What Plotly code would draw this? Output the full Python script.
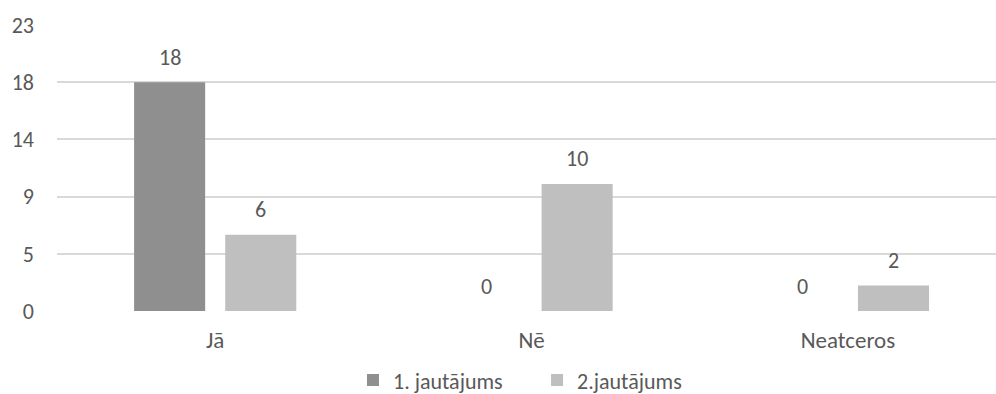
import plotly.graph_objects as go

categories = ["Jā", "Nē", "Neatceros"]
series_names = ["1. jautājums", "2.jautājums"]
q1_values = [18, 0, 0]
q2_values = [6, 10, 2]
tick_values = [0, 4.5, 9, 13.5, 18, 22.5]
tick_labels = ["0", "5", "9", "14", "18", "23"]

colors = ["#8f8f8f", "#bfbfbf"]
legend_ids = ["legend", "legend2"]
font_family = "Calibri, Carlito, Lato, sans-serif"
text_color = "#595959"
fs = 22

fig = go.Figure()
for name, vals, col, lg in zip(series_names, [q1_values, q2_values], colors, legend_ids):
    fig.add_trace(go.Bar(x=categories, y=vals, name=name, marker_color=col,
                         marker_line_width=0, legend=lg))

# value labels above each bar
bargap = 0.424
groupgap = 0.22
slot = (1 - bargap) / 2
for si, vals in enumerate([q1_values, q2_values]):
    offset = (si - 0.5) * slot
    for ci, v in enumerate(vals):
        fig.add_annotation(x=ci + offset, y=v, xref="x", yref="y", text=str(v),
                           showarrow=False, yanchor="middle", yshift=25,
                           font=dict(family=font_family, size=fs, color=text_color))

legend_style = dict(orientation="h", xref="container", xanchor="left",
                    yref="container", y=0.035, yanchor="middle",
                    font=dict(size=fs, color=text_color), itemwidth=30)

fig.update_layout(
    width=996, height=394,
    margin=dict(l=57, r=0, t=25, b=83),
    paper_bgcolor="white", plot_bgcolor="white",
    barmode="group", bargap=bargap, bargroupgap=groupgap,
    font=dict(family=font_family, size=fs, color=text_color),
    showlegend=True,
    legend=dict(x=0.3544, **legend_style),
    legend2=dict(x=0.5392, **legend_style),
    xaxis=dict(range=[-0.5, 2.468], showgrid=False, zeroline=False,
               showline=False, ticks="", ticklabelstandoff=13,
               tickfont=dict(size=fs + 1, color=text_color)),
    yaxis=dict(range=[0, 22.5], tickvals=tick_values, ticktext=tick_labels,
               showgrid=True, gridcolor="#d9d9d9", gridwidth=2,
               zeroline=False, showline=False, ticks="",
               ticklabelstandoff=22, tickfont=dict(size=fs, color=text_color)),
)

fig.write_html("out.html")
